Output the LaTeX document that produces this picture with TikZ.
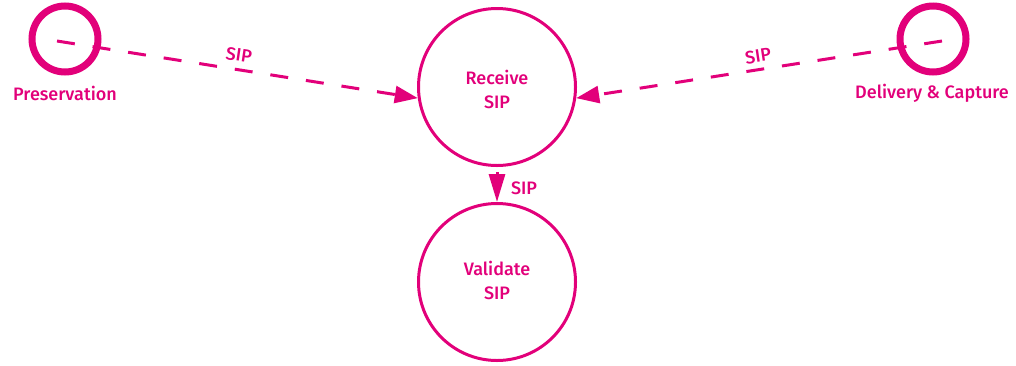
\documentclass[tikz,border=0pt]{standalone}
\usepackage{fontspec}
\setmainfont{Fira Sans}[UprightFont = * Medium]
\usetikzlibrary{arrows.meta}
\definecolor{mag}{HTML}{E2007A}
\tikzset{
  x=1pt, y=-1pt,
  every node/.style={text=mag, font=\fontsize{18}{25}\selectfont},
  actor/.style={circle, draw=mag, line width=7pt, minimum size=66pt, inner sep=0pt},
  process/.style={circle, draw=mag, line width=3pt, minimum size=157pt, inner sep=0pt, align=center},
  flow/.style={draw=mag, line width=3pt, dash pattern=on 18pt off 18pt,
    -{Triangle[length=23pt, width=17pt]}},
  direct/.style={draw=mag, line width=3pt, -{Triangle[length=28pt, width=16pt]}},
  tag/.style={inner sep=0pt}
}
\begin{document}
\begin{tikzpicture}
\useasboundingbox (0,0) rectangle (1016,365);
% external entities
\node[actor] (pres) at (65,39) {};
\node[tag] (presl) at (65,93) {Preservation};
\node[actor] (deliv) at (933,39) {};
\node[tag] (delivl) at (932,93) {Delivery \& Capture};
% processes
\node[process] (recv) at (497,87) {};
\node[tag] at (497,77) {Receive};
\node[tag] at (497,102) {SIP};
\node[process] (val) at (497,282) {};
\node[tag] at (497,268) {Validate};
\node[tag] at (497,293) {SIP};
% flows
\coordinate (ps) at (57,41);
\coordinate (ds) at (942,41);
\draw[flow] (ps) -- (recv.188);
\draw[flow] (ds) -- (recv.352);
\draw[direct] ([yshift=-5pt]recv.south) -- (val.north);
% flow labels
\node[tag, rotate=-8.5] at (239,55) {SIP};
\node[tag, rotate=8.5] at (758,56) {SIP};
\node[tag] at (524,188) {SIP};
\end{tikzpicture}
\end{document}
